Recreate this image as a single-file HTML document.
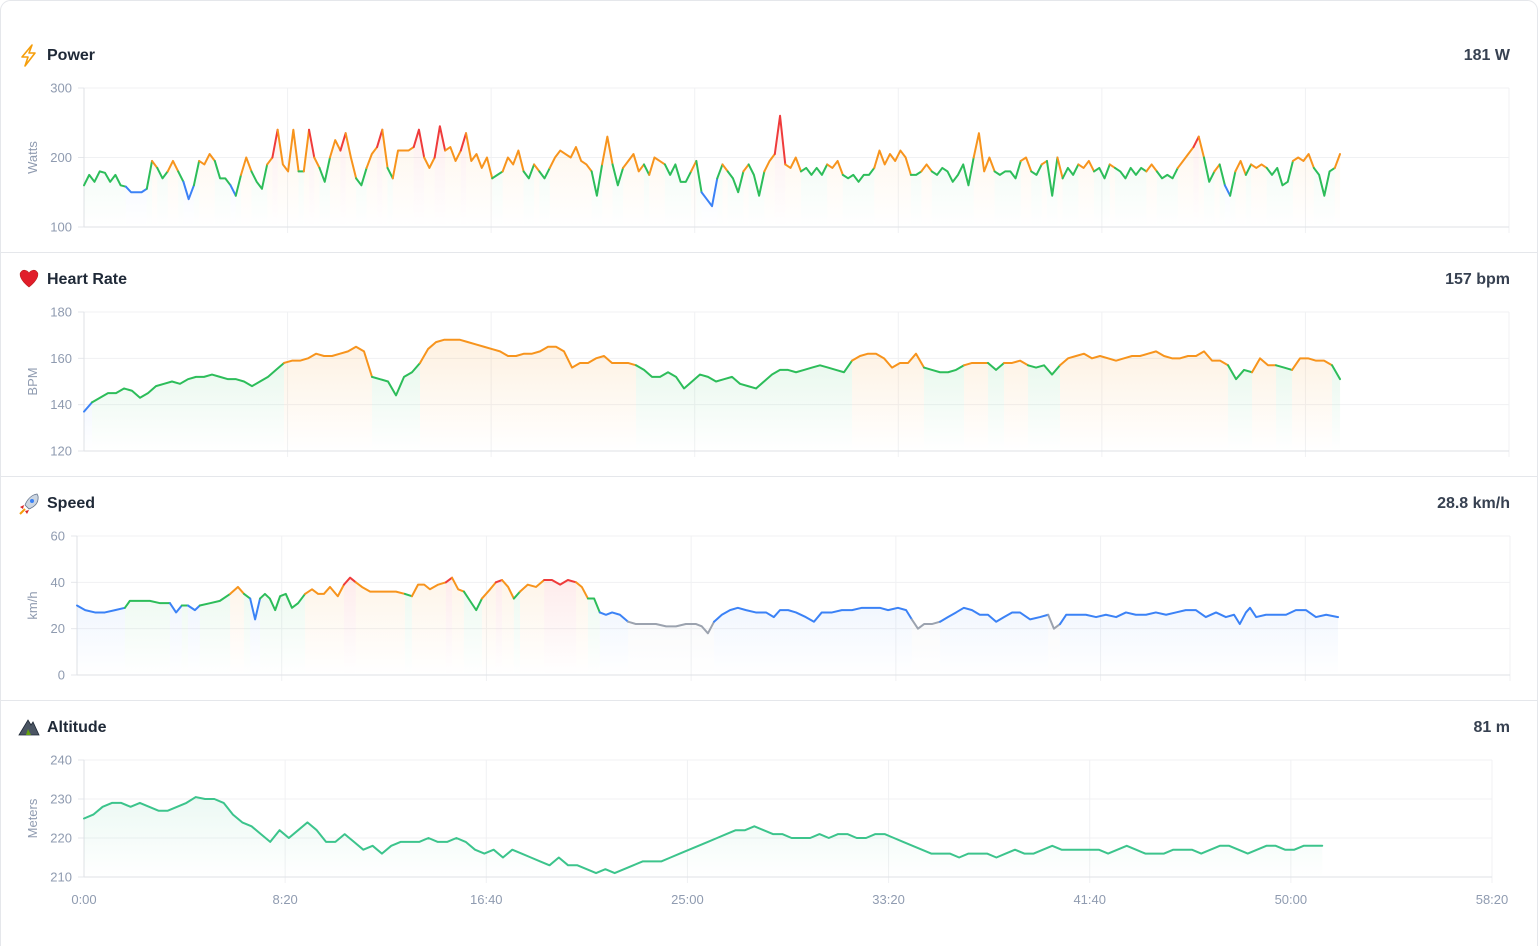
<!DOCTYPE html>
<html><head><meta charset="utf-8"><style>
html,body{margin:0;padding:0;background:#fff;}
svg text{font-family:"Liberation Sans",sans-serif;}
</style></head><body>
<svg id="root" width="1538" height="946" viewBox="0 0 1538 946" xmlns="http://www.w3.org/2000/svg">
<defs></defs>
<rect x="0.5" y="0.5" width="1537" height="980" rx="10" fill="#fff" stroke="#e5e7eb"/>
<g>
<path d="M32 45 L22 57 L28 57 L25 66 L35 53 L29 53 Z" fill="none" stroke="#f59e0b" stroke-width="1.6" stroke-linejoin="round"/>
<text x="47" y="60" font-size="16" font-weight="bold" fill="#1f2937">Power</text>
<text x="1510" y="60" font-size="16" font-weight="bold" fill="#374151" text-anchor="end">181 W</text>
</g>
<line x1="0" y1="252.5" x2="1538" y2="252.5" stroke="#e5e7eb"/>
<g>
<path d="M29 287 C20 280 19 274 21 272 C23 269 27 270 29 273 C31 270 35 269 37 272 C39 274 38 280 29 287 Z" fill="#e11d2a" stroke="#b91c1c" stroke-width="0.6"/>
<text x="47" y="284" font-size="16" font-weight="bold" fill="#1f2937">Heart Rate</text>
<text x="1510" y="284" font-size="16" font-weight="bold" fill="#374151" text-anchor="end">157 bpm</text>
</g>
<line x1="0" y1="476.5" x2="1538" y2="476.5" stroke="#e5e7eb"/>
<g>
<g>
<path d="M37 494 C31 495 27 500 25 505 L29 509 C34 507 39 503 38 496 Z" fill="#cbd5e1" stroke="#64748b" stroke-width="0.8"/>
<circle cx="32" cy="501" r="2" fill="#3b82f6"/>
<path d="M24 505 L20 507 L23 509 Z M29 510 L27 514 L25 511 Z" fill="#dc2626"/>
<path d="M25 509 L20 514" stroke="#f59e0b" stroke-width="2"/>
</g>
<text x="47" y="508" font-size="16" font-weight="bold" fill="#1f2937">Speed</text>
<text x="1510" y="508" font-size="16" font-weight="bold" fill="#374151" text-anchor="end">28.8 km/h</text>
</g>
<line x1="0" y1="700.5" x2="1538" y2="700.5" stroke="#e5e7eb"/>
<g>
<path d="M19 735 L28 720 L31 725 L33 722 L39 735 Z" fill="#4b5563" stroke="#1f2937" stroke-width="0.8"/>
<path d="M26 735 L28 729 L31 735 Z" fill="#65a30d"/>
<text x="47" y="732" font-size="16" font-weight="bold" fill="#1f2937">Altitude</text>
<text x="1510" y="732" font-size="16" font-weight="bold" fill="#374151" text-anchor="end">81 m</text>
</g>
<g id="charts"></g>
</svg>
<script>
// ---------- data ----------
const totalSeconds = 3500;
const xTickLabels = ["0:00","8:20","16:40","25:00","33:20","41:40","50:00","58:20"];
const xTickSeconds = [0,500,1000,1500,2000,2500,3000,3500];

const powerEndSec = 3085;
const powerTicks = [100,200,300];
const powerValues = [160,175,165,180,178,165,175,160,158,150,150,150,155,195,185,170,180,195,180,165,140,160,195,190,205,195,170,170,160,145,175,200,180,165,155,190,200,240,190,180,240,180,180,240,200,185,165,200,225,210,235,200,170,160,185,205,215,240,185,170,210,210,210,215,240,200,185,200,245,210,215,195,210,235,195,205,185,200,170,175,180,200,190,210,180,170,190,180,170,185,200,210,205,200,215,195,190,180,145,190,230,190,160,185,195,205,180,190,175,200,195,190,175,190,165,165,180,195,150,140,130,170,190,180,170,150,180,190,175,145,180,195,205,260,190,185,200,180,185,175,185,175,190,185,195,175,170,175,165,175,175,185,210,190,205,195,210,200,175,175,180,190,180,175,185,180,165,175,190,160,200,235,180,200,180,175,180,180,170,195,200,180,175,190,195,145,200,170,185,175,190,185,195,180,185,170,190,185,180,170,185,175,185,180,190,180,170,175,170,185,195,205,215,230,200,165,180,190,160,145,180,195,175,190,185,190,185,175,185,160,165,195,200,195,205,185,175,145,180,185,205];

const hrEndSec = 3085;
const hrTicks = [120,140,160,180];
const hrValues = [137,141,143,145,145,147,146,143,145,148,149,150,149,151,152,152,153,152,151,151,150,148,150,152,155,158,159,159,160,162,161,161,162,163,165,163,152,151,150,144,152,154,158,164,167,168,168,168,167,166,165,164,163,161,161,162,162,163,165,165,163,156,158,158,160,161,158,158,158,157,155,152,152,154,152,147,150,153,152,150,151,152,149,148,147,150,153,155,155,154,155,156,157,156,155,154,159,161,162,162,160,156,158,158,162,156,155,154,154,155,157,158,158,158,155,158,158,159,157,156,157,153,157,160,161,162,160,161,160,159,160,161,161,162,163,161,160,160,161,161,163,159,159,157,151,155,154,160,157,157,156,155,160,160,159,159,157,151];

const speedTicks = [0,20,40,60];
const speedSeconds = [0,20,44,68,93,117,129,154,178,203,227,242,256,271,288,300,325,349,374,393,408,423,435,447,459,471,484,496,510,525,540,557,574,589,603,618,637,652,667,681,696,716,735,755,779,801,818,833,848,862,882,901,916,931,945,960,975,989,1009,1023,1038,1053,1067,1082,1101,1121,1141,1160,1180,1199,1219,1233,1248,1263,1277,1292,1307,1326,1346,1365,1390,1414,1439,1463,1487,1512,1526,1541,1556,1575,1595,1614,1634,1658,1683,1702,1717,1737,1756,1780,1800,1819,1844,1868,1893,1917,1942,1961,1981,2005,2025,2039,2054,2069,2088,2108,2127,2147,2166,2186,2205,2225,2245,2264,2284,2303,2328,2352,2372,2386,2401,2416,2440,2464,2489,2513,2538,2562,2586,2611,2635,2660,2684,2708,2733,2757,2782,2806,2826,2840,2855,2865,2880,2904,2929,2953,2977,3002,3026,3051,3080];
const speedValues = [30,28,27,27,28,29,32,32,32,31,31,27,30,30,28,30,31,32,35,38,35,33,24,33,35,33,28,34,35,29,31,35,37,35,35,38,34,39,42,40,38,36,36,36,36,35,34,39,39,37,39,40,42,37,36,32,28,33,37,40,41,38,33,36,39,38,41,41,39,41,40,38,33,33,27,26,27,26,23,22,22,22,21,21,22,22,21,18,23,26,28,29,28,27,27,25,28,28,27,25,23,27,27,28,28,29,29,29,28,29,28,24,20,22,22,23,25,27,29,28,26,26,23,25,27,27,24,25,26,20,22,26,26,26,25,26,25,27,26,26,27,26,27,28,28,25,27,25,26,22,27,29,25,26,26,26,28,28,25,26,25];

const altEndSec = 3078;
const altTicks = [210,220,230,240];
const altValues = [225,226,228,229,229,228,229,228,227,227,228,229,230.5,230,230,229,226,224,223,221,219,222,220,222,224,222,219,219,221,219,217,218,216,218,219,219,219,220,219,219,220,219,217,216,217,215,217,216,215,214,213,215,213,213,212,211,212,211,212,213,214,214,214,215,216,217,218,219,220,221,222,222,223,222,221,221,220,220,220,221,220,221,221,220,220,221,221,220,219,218,217,216,216,216,215,216,216,216,215,216,217,216,216,217,218,217,217,217,217,217,216,217,218,217,216,216,216,217,217,217,216,217,218,218,217,216,217,218,218,217,217,218,218,218];

// ---------- drawing ----------
const NS = "http://www.w3.org/2000/svg";
const root = document.getElementById('charts');
const defs = document.querySelector('defs');
const C = {blue:"#3b82f6",green:"#2dbd5a",orange:"#f7941d",red:"#ef3b3b",grey:"#9ca3af",teal:"#3cc48c"};
function mk(tag, attrs, parent){const e=document.createElementNS(NS,tag);for(const k in attrs)e.setAttribute(k,attrs[k]);(parent||root).appendChild(e);return e;}

function chart(cfg){
  const g = mk('g',{});
  
  
  const xs = s => cfg.x0 + s/totalSeconds*(cfg.x1-cfg.x0);
  const ys = v => cfg.yb - (v-cfg.vmin)/(cfg.vmax-cfg.vmin)*(cfg.yb-cfg.yt);
  cfg.ticks.forEach(t=>{
    const l = mk('line',{x1:cfg.x0,x2:cfg.x1,y1:ys(t),y2:ys(t),stroke:"#f0f1f3"},g);
    
    
    const tk = mk('line',{x1:cfg.x0-6,x2:cfg.x0,y1:ys(t),y2:ys(t),stroke:"#e5e7eb"},g);
    
    
    const tx = mk('text',{x:cfg.x0-12,y:ys(t)+4.5,'font-size':13,fill:"#8f9bb0",'text-anchor':'end'},g);
    tx.textContent = t;
    
    
  });
  xTickSeconds.forEach((s,i)=>{
    if(i===0) return;
    const l = mk('line',{x1:xs(s),x2:xs(s),y1:cfg.yt,y2:cfg.yb+6,stroke:"#f0f1f3"},g);
    
    
  });
  const ax = mk('line',{x1:cfg.x0,x2:cfg.x1,y1:cfg.yb,y2:cfg.yb,stroke:"#dfe2e6"},g);
  
  
  const ay = mk('line',{x1:cfg.x0,x2:cfg.x0,y1:cfg.yt,y2:cfg.yb,stroke:"#dfe2e6"},g);
  
  
  const yt = mk('text',{x:0,y:0,'font-size':13,fill:"#8f9bb0",'text-anchor':'middle',transform:`translate(37,${(cfg.yt+cfg.yb)/2}) rotate(-90)`},g);
  yt.textContent = cfg.yTitle;
  
  
  if(cfg.xLabels){
    xTickSeconds.forEach((s,i)=>{
      const t = mk('text',{x:xs(s),y:cfg.yb+27,'font-size':13,fill:"#8f9bb0",'text-anchor':'middle'},g);
      t.textContent = xTickLabels[i];
      
      
    });
  }
  const cols = {};
  Object.keys(C).forEach(k=>{
    const id = cfg.name+'-grad-'+k;
    const lg = mk('linearGradient',{id:id,gradientUnits:'userSpaceOnUse',x1:0,x2:0,y1:cfg.yt+20,y2:cfg.yb},defs);
    mk('stop',{offset:0,'stop-color':C[k],'stop-opacity':cfg.fillOp},lg);
    mk('stop',{offset:1,'stop-color':C[k],'stop-opacity':0},lg);
    cols[k]='url(#'+id+')';
  });
  const vals = cfg.values, n = vals.length;
  const times = cfg.times || vals.map((v,i)=>i*cfg.endSec/(n-1));
  const pts = vals.map((v,i)=>[xs(times[i]), ys(v)]);
  const fills = mk('g',{},g);
  
  
  let runs=[]; let cur=null;
  for(let i=0;i<n-1;i++){
    const c = cfg.color((vals[i]+vals[i+1])/2);
    if(!cur||cur.c!==c){cur={c:c,pts:[pts[i]]};runs.push(cur);}
    cur.pts.push(pts[i+1]);
  }
  runs.forEach(r=>{
    const p = r.pts;
    let d = 'M'+p[0][0]+','+cfg.yb+' '+p.map(q=>'L'+q[0]+','+q[1]).join(' ')+' L'+p[p.length-1][0]+','+cfg.yb+'Z';
    const a = mk('path',{d:d,fill:cols[r.c],stroke:'none'},fills);
    
    
  });
  const lines = mk('g',{},g);
  
  
  runs.forEach(r=>{
    const l = mk('polyline',{points:r.pts.map(q=>q.join(',')).join(' '),fill:'none',stroke:C[r.c],'stroke-width':2,'stroke-linejoin':'round','stroke-linecap':'round'},lines);
    
    
  });
}

chart({name:'power-chart',x0:84,x1:1509,yt:88,yb:227,vmin:100,vmax:300,ticks:powerTicks,yTitle:'Watts',values:powerValues,endSec:powerEndSec,fillOp:0.10,
  color:v=>v<155?'blue':v<185?'green':v<220?'orange':'red'});
chart({name:'heart-rate-chart',x0:84,x1:1509,yt:312,yb:451,vmin:120,vmax:180,ticks:hrTicks,yTitle:'BPM',values:hrValues,endSec:hrEndSec,fillOp:0.14,
  color:v=>v<141?'blue':v<157?'green':'orange'});
chart({name:'speed-chart',x0:77,x1:1510,yt:536,yb:675,vmin:0,vmax:60,ticks:speedTicks,yTitle:'km/h',values:speedValues,times:speedSeconds,fillOp:0.12,
  color:v=>v<24?'grey':v<30?'blue':v<35?'green':v<40?'orange':'red'});
chart({name:'altitude-chart',x0:84,x1:1492,yt:760,yb:877,vmin:210,vmax:240,ticks:altTicks,yTitle:'Meters',values:altValues,endSec:altEndSec,fillOp:0.12,xLabels:true,
  color:v=>'teal'});
</script>
</body></html>
